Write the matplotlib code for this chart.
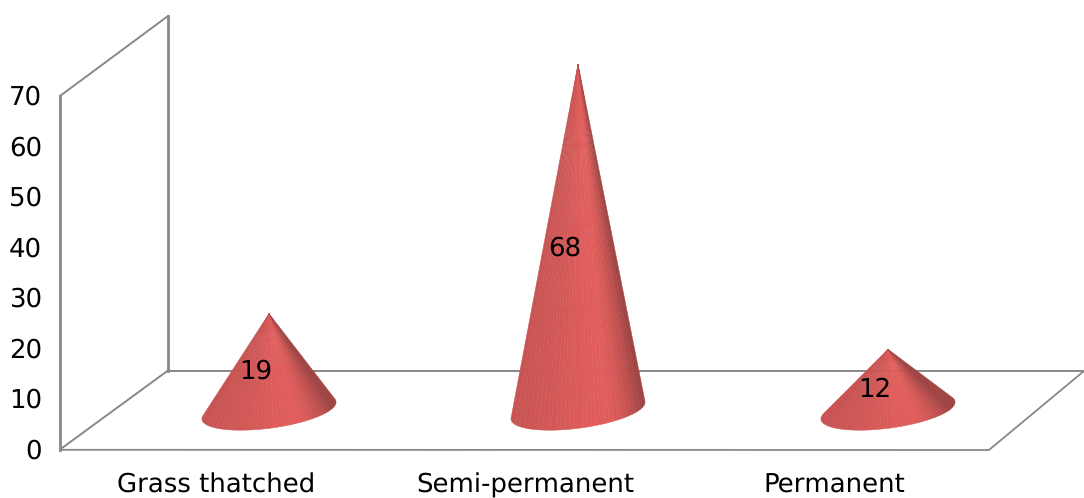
import numpy as np
import matplotlib
matplotlib.use("Agg")
import matplotlib.pyplot as plt
from matplotlib.colors import LinearSegmentedColormap
from matplotlib.patches import Polygon

categories = ["Grass thatched", "Semi-permanent", "Permanent"]
values = [19, 68, 12]
y_ticks = [0, 10, 20, 30, 40, 50, 60, 70]

W, H = 1084, 498
GRID = "#888888"
FONT = 18.4

plt.rcParams["font.family"] = "DejaVu Sans"
plt.rcParams["text.hinting"] = "none"
plt.rcParams["text.hinting_factor"] = 1
fig = plt.figure(figsize=(W / 100, H / 100), dpi=100)
ax = fig.add_axes([0, 0, 1, 1])
ax.set_xlim(0, W)
ax.set_ylim(H, 0)
ax.axis("off")


def tick_y(v):
    """Vertical position of a tick label on the front axis."""
    return 451 - v * 5.05


def apex_y(v):
    """Vertical position of a cone's tip, measured from the floor centre line."""
    return 410.3 - v * 5.09


# Back wall and floor of the 3D box
ax.plot([60, 60], [449.5, 96], color=GRID, lw=2.0, zorder=1)
ax.plot([168, 168], [16, 370.5], color=GRID, lw=2.0, zorder=1)
ax.plot([60, 168], [96, 16], color=GRID, lw=1.4, zorder=1)
ax.plot([60, 168], [449.5, 370.5], color=GRID, lw=1.4, zorder=1)
ax.plot([60, 989, 1090], [449.8, 450, 366], color=GRID, lw=1.3, zorder=1)
ax.plot([168, 1090], [370.6, 370.6], color=GRID, lw=1.4, zorder=1)

shade = LinearSegmentedColormap.from_list(
    "cone",
    [(0.00, "#c85554"), (0.30, "#d25856"), (0.55, "#de5c5a"), (0.74, "#e15e5b"),
     (0.84, "#d25856"), (0.93, "#bb4f4d"), (1.00, "#a04645")],
)


def draw_cone(cx, value):
    """Fan of shaded slices from the tip to a tilted elliptical base."""
    tip = np.array([cx, apex_y(value)])
    centre = np.array([cx, 410.5])
    major = np.array([67.0, -9.0])
    minor = np.array([2.5, 17.5])
    t = np.linspace(-np.pi / 2, 3 * np.pi / 2, 1441)
    rim = centre + np.outer(np.cos(t), major) + np.outer(np.sin(t), minor)
    # Silhouette: rim points at the extreme bearing as seen from the tip
    bearing = np.arctan2(rim[:, 0] - tip[0], rim[:, 1] - tip[1])
    lo, hi = sorted((int(np.argmax(bearing)), int(np.argmin(bearing))))
    arc = rim[lo:hi + 1]
    if arc[0, 0] > arc[-1, 0]:
        arc = arc[::-1]
    stops = np.linspace(arc[0, 0], arc[-1, 0], 31)
    picks = [np.argmin(np.abs(arc[:, 0] - s)) for s in stops]
    for k in range(len(picks) - 1):
        c = shade(k / (len(picks) - 2))
        seg = arc[picks[k]:picks[k + 1] + 1]
        ax.add_patch(Polygon(np.vstack([tip, seg]), closed=True, facecolor=c,
                             edgecolor=c, lw=0.35, zorder=3))


cone_x = [269, 578, 888]
label_x = [256, 565, 875]
label_y = [371, 248, 390]
cat_x = [216, 525, 834]

for cx, v in zip(cone_x, values):
    draw_cone(cx, v)

for lx, ly, v in zip(label_x, label_y, values):
    ax.text(lx, ly, str(v), ha="center", va="center", fontsize=FONT, color="black", zorder=5)

for v in y_ticks:
    ax.text(42, tick_y(v), str(v), ha="right", va="center", fontsize=FONT, color="black")

for x, name in zip(cat_x, categories):
    ax.text(x, 485, name, ha="center", va="center", fontsize=FONT, color="black")

fig.savefig("out.png", dpi=100, facecolor="white")
